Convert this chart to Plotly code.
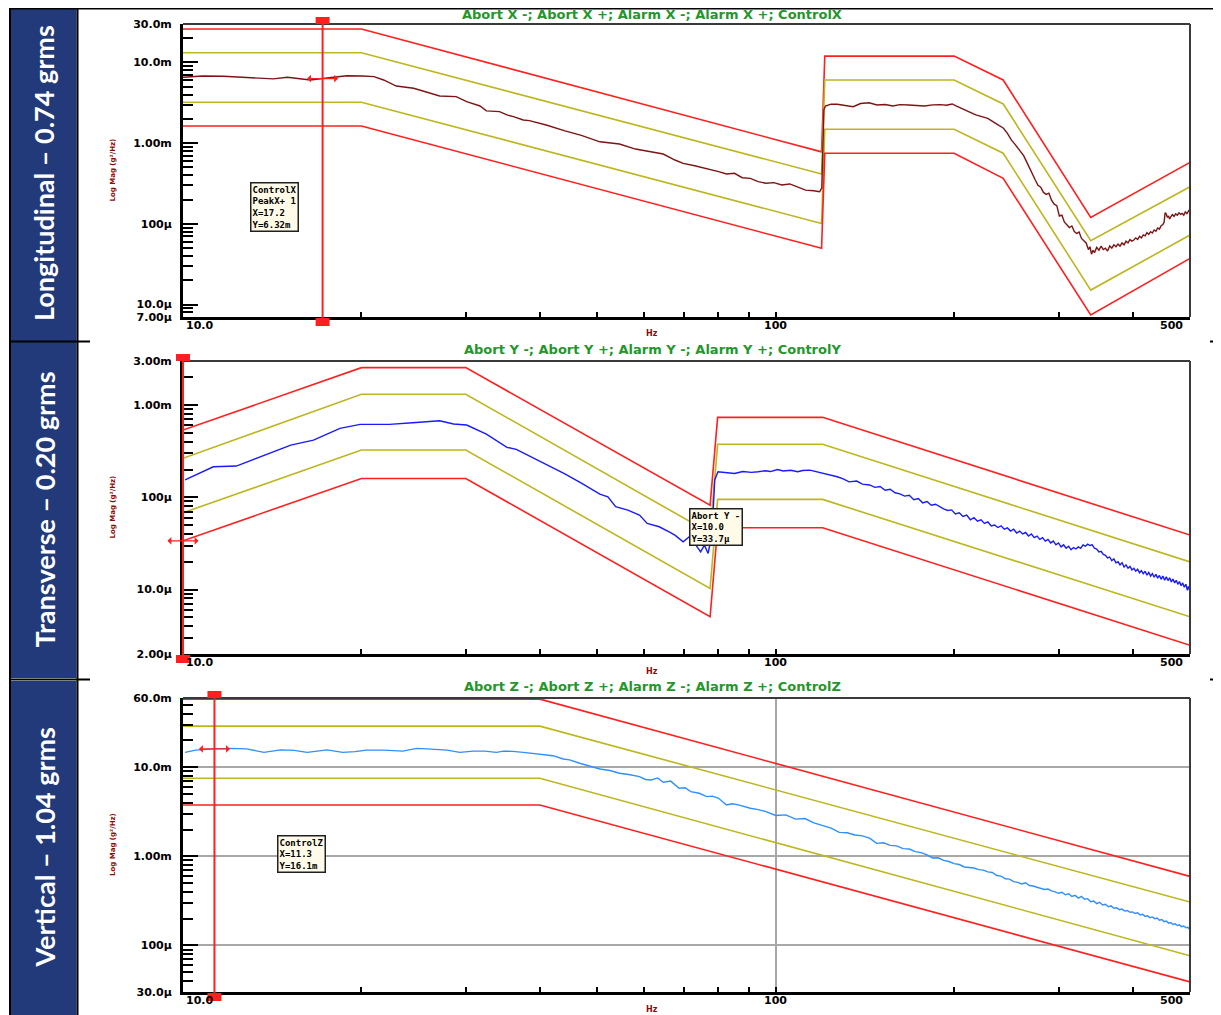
import math
import plotly.graph_objects as go

# page is 1221x1015; the html body adds an 8px margin, so the figure is 8px smaller
PAGE_W, PAGE_H = 1221, 1015
OFF = 8
W, H = PAGE_W - OFF, PAGE_H - OFF

# ---------------- data (frequency in Hz, PSD in g^2/Hz) ----------------
# Panel 1 : Longitudinal (X)
LIM_X_F = [10, 20, 119.5, 121, 200, 242, 340, 500]
ABORT_X_HI = [0.026, 0.026, 0.78e-3, 12.0e-3, 12.0e-3, 6.07e-3, 0.120e-3, 0.578e-3]
ALARM_X_HI = [0.0132, 0.0132, 0.415e-3, 6.07e-3, 6.07e-3, 3.06e-3, 61.8e-6, 0.288e-3]
ALARM_X_LO = [3.21e-3, 3.21e-3, 0.101e-3, 1.49e-3, 1.49e-3, 0.75e-3, 15.1e-6, 72.6e-6]
ABORT_X_LO = [1.63e-3, 1.63e-3, 49.7e-6, 0.75e-3, 0.75e-3, 0.367e-3, 7.41e-6, 37.3e-6]

CTRL_X_F = [10.0, 10.8, 11.7, 13.0, 14.2, 15.0, 15.7, 16.4, 17.2, 18.9, 20.1, 21.0, 21.8, 22.9,
            24.5, 26.1, 27.1, 28.9, 30.1, 31.7, 32.5, 34.2, 35.2, 36.1, 37.5, 38.4, 41.0, 44.1,
            47.0, 50.5, 54.5, 58.0, 61.7, 64.6, 67.6, 69.8, 73.0, 76.5, 80.1, 82.6, 85.2, 87.8,
            90.6, 93.4, 96.3, 99.3, 102.4, 105.6, 108.9, 112.3, 115.9, 118.6, 119.6, 120.6, 121.3,
            124, 127.0, 131, 135.1, 139, 143.7, 148.2, 153, 157.6, 162, 167.6, 173, 178.2, 184,
            189.5, 194, 198.5, 201.5, 207.8, 212, 217.6, 222, 227.9, 235.0, 242.3, 246.0, 249.9,
            253, 257.7, 262, 265.8, 270, 274.1, 277, 280, 283, 286, 289, 292, 295, 298, 301, 304,
            307, 310, 313, 316, 319, 322, 325, 328, 331, 334, 337, 339, 341, 343, 345, 348, 351,
            354, 357, 360, 363, 366, 369, 372, 375, 378, 381, 384, 387, 390, 393, 396, 399, 402,
            405, 408, 411, 414, 417, 420, 423, 426, 429, 432, 435, 438, 441, 444, 447, 450, 452,
            454, 456, 458, 460, 462, 464, 467, 470, 473, 476, 479, 482, 485, 488, 491, 494, 497,
            499]
CTRL_X_V = [6.55e-3, 6.80e-3, 6.74e-3, 6.42e-3, 6.26e-3, 6.57e-3, 6.32e-3, 6.07e-3, 6.32e-3,
            6.86e-3, 6.80e-3, 6.68e-3, 6.07e-3, 5.11e-3, 4.79e-3, 4.15e-3, 3.84e-3, 3.77e-3,
            3.27e-3, 2.89e-3, 2.51e-3, 2.46e-3, 2.24e-3, 2.13e-3, 1.94e-3, 1.90e-3, 1.68e-3,
            1.42e-3, 1.25e-3, 1.04e-3, 0.975e-3, 0.845e-3, 0.783e-3, 0.733e-3, 0.618e-3,
            0.562e-3, 0.525e-3, 0.487e-3, 0.443e-3, 0.415e-3, 0.423e-3, 0.373e-3, 0.366e-3,
            0.333e-3, 0.318e-3, 0.324e-3, 0.303e-3, 0.312e-3, 0.289e-3, 0.262e-3, 0.257e-3,
            0.250e-3, 0.280e-3, 2.60e-3, 2.89e-3, 3.05e-3, 3.03e-3, 2.92e-3, 2.83e-3, 3.10e-3,
            3.17e-3, 2.97e-3, 3.02e-3, 2.89e-3, 3.00e-3, 2.97e-3, 2.93e-3, 2.89e-3, 2.98e-3,
            3.00e-3, 2.95e-3, 3.06e-3, 2.89e-3, 2.58e-3, 2.45e-3, 2.24e-3, 2.15e-3, 2.03e-3,
            1.76e-3, 1.53e-3, 1.32e-3, 1.09e-3, 0.98e-3, 0.822e-3, 0.70e-3, 0.562e-3, 0.43e-3,
            349e-6, 300e-6, 285e-6, 245e-6, 232e-6, 240e-6, 196e-6, 175e-6, 168e-6, 125e-6,
            128e-6, 105e-6, 98e-6, 90e-6, 94e-6, 80e-6, 76e-6, 79e-6, 66e-6, 62e-6, 58e-6,
            48e-6, 52e-6, 42e-6, 47e-6, 44e-6, 51e-6, 47e-6, 53e-6, 48e-6, 50e-6, 46e-6, 53e-6,
            50e-6, 55e-6, 52e-6, 56e-6, 53e-6, 58e-6, 55e-6, 61e-6, 58e-6, 64e-6, 61e-6, 63e-6,
            67e-6, 64e-6, 70e-6, 67e-6, 73e-6, 71e-6, 78e-6, 74e-6, 80e-6, 77e-6, 84e-6, 81e-6,
            89e-6, 86e-6, 95e-6, 98e-6, 104e-6, 138e-6, 132e-6, 120e-6, 125e-6, 115e-6, 122e-6,
            130e-6, 124e-6, 133e-6, 128e-6, 137e-6, 131e-6, 135e-6, 128e-6, 140e-6, 134e-6,
            142e-6, 150e-6]

# Panel 2 : Transverse (Y)
LIM_Y_F = [10, 20, 30, 77.5, 79.8, 120, 500]
ABORT_Y_HI = [0.535e-3, 2.54e-3, 2.54e-3, 82.2e-6, 0.735e-3, 0.735e-3, 38.9e-6]
ALARM_Y_HI = [0.264e-3, 1.31e-3, 1.31e-3, 41e-6, 0.375e-3, 0.375e-3, 19.9e-6]
ALARM_Y_LO = [67.9e-6, 0.325e-3, 0.325e-3, 10.3e-6, 94.8e-6, 94.8e-6, 5.06e-6]
ABORT_Y_LO = [33.7e-6, 0.160e-3, 0.160e-3, 5.06e-6, 46.7e-6, 46.7e-6, 2.49e-6]

CTRL_Y_F = [10.08, 11.25, 12.3, 13.8, 15.2, 16.6, 18.4, 19.9, 22.3, 24.4, 27.1, 28.6, 30.1,
            32.5, 35.2, 36.5, 38.4, 41, 44, 47, 50.5, 52.1, 53.7, 56.3, 58.9, 60.7, 63.6, 66.1,
            67.6, 69.8, 71.4, 73.0, 74.7, 75.8, 76.9, 78.1, 78.9, 79.9, 82, 85.2, 88, 91, 93.4,
            96, 98, 100.7, 103, 106, 108.9, 111, 114.2, 117, 121.3, 124, 127.0, 130, 133.0, 137,
            140, 144, 147, 150, 153, 156, 159, 162, 165, 168, 171, 174, 177, 180, 183, 186, 189,
            192, 195, 198, 201, 204, 207, 210, 213, 216, 219, 222, 225, 228, 231, 234, 237, 240,
            243, 246, 249, 252, 255, 258, 261, 264, 267, 270, 273, 276, 279, 282, 285, 288, 291,
            294, 297, 300, 303, 306, 309, 312, 315, 318, 321, 324, 327, 330, 333, 336, 339, 342,
            345, 348, 351, 354, 357, 360, 363, 366, 369, 372, 375, 378, 381, 384, 387, 390, 393,
            396, 399, 402, 405, 408, 411, 414, 417, 420, 423, 426, 429, 432, 435, 438, 441, 444,
            447, 450, 453, 456, 459, 462, 465, 468, 471, 474, 477, 480, 483, 486, 489, 492, 495,
            497, 499]
CTRL_Y_V = [0.154e-3, 0.214e-3, 0.218e-3, 0.287e-3, 0.368e-3, 0.417e-3, 0.558e-3, 0.617e-3,
            0.617e-3, 0.643e-3, 0.676e-3, 0.622e-3, 0.607e-3, 0.484e-3, 0.348e-3, 0.330e-3,
            0.280e-3, 0.225e-3, 0.180e-3, 0.142e-3, 0.108e-3, 0.101e-3, 78.9e-6, 72.6e-6,
            64.1e-6, 52.1e-6, 47.9e-6, 42.2e-6, 38.9e-6, 32.9e-6, 37.2e-6, 31.6e-6, 25.6e-6,
            30.3e-6, 24.6e-6, 40.5e-6, 0.154e-3, 0.189e-3, 0.185e-3, 0.181e-3, 0.190e-3,
            0.186e-3, 0.189e-3, 0.194e-3, 0.190e-3, 0.200e-3, 0.193e-3, 0.196e-3, 0.189e-3,
            0.195e-3, 0.197e-3, 0.190e-3, 0.181e-3, 0.176e-3, 0.167e-3, 0.158e-3, 0.147e-3,
            0.150e-3, 0.139e-3,
            136e-6, 128e-6, 131e-6, 119e-6, 122e-6, 112e-6, 109e-6, 103e-6, 105e-6, 94e-6, 97e-6,
            87e-6, 90e-6, 82e-6, 84e-6, 79e-6, 75e-6, 72e-6, 73e-6, 66e-6, 68e-6, 62e-6, 64e-6,
            57e-6, 60e-6, 55e-6, 57e-6, 52e-6, 54e-6, 49e-6, 50e-6, 47e-6, 49e-6, 45e-6, 46.5e-6,
            43e-6, 45e-6, 41e-6, 43e-6, 40e-6, 41.5e-6, 38e-6, 40e-6, 36.5e-6, 38e-6, 35e-6,
            36.5e-6, 33.5e-6, 35e-6, 32e-6, 33.5e-6, 30.5e-6, 32e-6, 29e-6, 30.5e-6, 28e-6,
            29.5e-6, 27e-6, 28.5e-6, 27.5e-6, 29e-6, 28e-6, 30.5e-6, 29.5e-6, 31e-6, 30e-6,
            30.5e-6, 28e-6, 27.5e-6, 25.5e-6, 26e-6, 24e-6, 23.5e-6, 22e-6, 22.5e-6, 20.5e-6,
            21.5e-6, 19.5e-6, 20e-6, 18.5e-6, 19.5e-6, 17.5e-6, 18.5e-6, 17e-6, 17.8e-6, 16.3e-6,
            17e-6, 15.8e-6, 16.6e-6, 15.2e-6, 16e-6, 14.8e-6, 15.8e-6, 14.3e-6, 15.3e-6, 14e-6,
            14.9e-6, 13.6e-6, 14.6e-6, 13.3e-6, 14.2e-6, 12.9e-6, 14e-6, 12.6e-6, 13.7e-6,
            12.5e-6, 13.4e-6, 12.1e-6, 13e-6, 11.8e-6, 12.6e-6, 11.4e-6, 12.2e-6, 11e-6,
            11.8e-6, 10.6e-6, 11.4e-6, 9.8e-6, 10.8e-6, 10.0e-6]

# Panel 3 : Vertical (Z)
LIM_Z_F = [10, 40, 500]
ABORT_Z_HI = [58.3e-3, 58.3e-3, 0.595e-3]
ALARM_Z_HI = [29.0e-3, 29.0e-3, 0.307e-3]
ALARM_Z_LO = [7.53e-3, 7.53e-3, 76.6e-6]
ABORT_Z_LO = [3.78e-3, 3.78e-3, 38.9e-6]

CTRL_Z_F = [10.08, 10.5, 11.3, 12.0, 12.8, 13.7, 14.6, 15.4, 16.2, 17.5, 18.6, 19.5, 20.4,
            21.8, 23.5, 24.8, 25.8, 27.9, 29.3, 30.9, 32.3, 33.8, 34.7, 36.0, 37.5, 40.0, 42.1,
            43.8, 44.9, 46.7, 48.5, 50.5, 52.5, 54.5, 56.5, 58.9, 60.3, 61.7, 63.2, 64.6, 66.5,
            68.7, 70.3, 71.9, 74.3, 76.5, 78.2, 80.1, 82.6, 84.5, 86.5, 88.5, 90.6, 93.4, 96.3,
            100, 104, 108, 112, 116, 120, 124, 128, 132, 136, 140, 144, 148, 152, 156, 160, 164,
            168, 172, 176, 180, 184, 188, 192, 196, 200, 204, 208, 212, 216, 220, 224, 228, 232,
            236, 240, 244, 248, 252, 256, 260, 264, 268, 272, 276, 280, 284, 288, 292, 296, 300,
            304, 308, 312, 316, 320, 324, 328, 332, 336, 340, 344, 348, 352, 356, 360, 364, 368,
            372, 376, 380, 384, 388, 392, 396, 400, 404, 408, 412, 416, 420, 424, 428, 432, 436,
            440, 444, 448, 452, 456, 460, 464, 468, 472, 476, 480, 484, 488, 492, 496, 499]
CTRL_Z_V = [14.7e-3, 15.6e-3, 16.1e-3, 16.3e-3, 16.1e-3, 14.7e-3, 15.7e-3, 15.5e-3, 14.7e-3,
            15.7e-3, 14.7e-3, 15.0e-3, 15.6e-3, 15.6e-3, 15.2e-3, 16.3e-3, 16.1e-3, 15.6e-3,
            14.7e-3, 15.2e-3, 15.2e-3, 14.7e-3, 15.2e-3, 15.1e-3, 14.7e-3, 14.0e-3, 13.5e-3,
            12.4e-3, 12.1e-3, 11.1e-3, 10.4e-3, 9.57e-3, 9.2e-3, 8.57e-3, 8.3e-3, 7.87e-3,
            7.3e-3, 7.21e-3, 7.6e-3, 6.79e-3, 7.0e-3, 5.81e-3, 5.9e-3, 5.34e-3, 5.11e-3,
            4.69e-3, 4.75e-3, 4.49e-3, 3.78e-3, 3.9e-3, 3.78e-3, 3.6e-3, 3.47e-3, 3.35e-3,
            3.18e-3,
            2.88e-3, 2.92e-3, 2.62e-3, 2.66e-3, 2.38e-3, 2.22e-3, 2.08e-3, 1.86e-3, 1.84e-3,
            1.74e-3, 1.70e-3, 1.60e-3, 1.40e-3, 1.42e-3, 1.33e-3, 1.31e-3, 1.22e-3, 1.21e-3,
            1.13e-3, 1.10e-3, 1.04e-3, 0.96e-3, 0.965e-3, 0.90e-3, 0.875e-3, 0.83e-3, 0.81e-3,
            0.76e-3, 0.75e-3, 0.74e-3, 0.71e-3, 0.70e-3, 0.67e-3, 0.66e-3, 0.61e-3, 0.60e-3,
            0.56e-3, 0.555e-3, 0.52e-3, 0.51e-3, 0.49e-3, 0.505e-3, 0.47e-3, 0.465e-3, 0.45e-3,
            0.44e-3, 0.425e-3, 0.43e-3, 0.41e-3, 0.40e-3, 0.385e-3, 0.395e-3, 0.37e-3, 0.38e-3,
            0.355e-3, 0.365e-3, 0.34e-3, 0.355e-3, 0.33e-3, 0.335e-3, 0.31e-3, 0.315e-3,
            0.295e-3, 0.305e-3, 0.285e-3, 0.29e-3, 0.272e-3, 0.278e-3, 0.262e-3, 0.265e-3,
            0.252e-3, 0.256e-3, 0.243e-3, 0.247e-3, 0.236e-3, 0.238e-3, 0.228e-3, 0.232e-3,
            0.22e-3, 0.224e-3, 0.212e-3, 0.215e-3, 0.205e-3, 0.209e-3, 0.2e-3, 0.203e-3,
            0.192e-3, 0.195e-3, 0.185e-3, 0.188e-3, 0.178e-3, 0.181e-3, 0.172e-3, 0.175e-3,
            0.167e-3, 0.17e-3, 0.162e-3, 0.165e-3, 0.158e-3, 0.16e-3, 0.152e-3]

# axis tick labels
Y1_TICKS = [0.03, 0.01, 1e-3, 1e-4, 1e-5, 7e-6]
Y1_TEXT = ["30.0m", "10.0m", "1.00m", "100µ", "10.0µ", "7.00µ"]
Y2_TICKS = [3e-3, 1e-3, 1e-4, 1e-5, 2e-6]
Y2_TEXT = ["3.00m", "1.00m", "100µ", "10.0µ", "2.00µ"]
Y3_TICKS = [0.06, 0.01, 1e-3, 1e-4, 3e-5]
Y3_TEXT = ["60.0m", "10.0m", "1.00m", "100µ", "30.0µ"]
X_LABELS = ["10.0", "100", "500"]

TITLES = ["Abort X -; Abort X +; Alarm X -; Alarm X +; ControlX",
          "Abort Y -; Abort Y +; Alarm Y -; Alarm Y +; ControlY",
          "Abort Z -; Abort Z +; Alarm Z -; Alarm Z +; ControlZ"]
SIDE_LABELS = ["Longitudinal – 0.74 grms", "Transverse – 0.20 grms", "Vertical – 1.04 grms"]
CURSOR_TEXT = ["ControlX<br>PeakX+ 1<br>X=17.2<br>Y=6.32m",
               "Abort Y -<br>X=10.0<br>Y=33.7µ",
               "ControlZ<br>X=11.3<br>Y=16.1m"]
CURSOR_F = [17.2, 10.0, 11.3]
CURSOR_V = [6.32e-3, 33.7e-6, 16.1e-3]

# ---------------- styling ----------------
RED = "#ff1f1f"
OLIVE = "#bdb61e"
MAROON = "#7d1414"
BLUE_Y = "#1a1aff"
BLUE_Z = "#2f8fff"
NAVY = "#233a7a"
GREEN = "#23962c"
DARKRED = "#8b0a0a"


def PX(x):
    return (x - OFF) / W


def PY(y):
    return 1 - (y - OFF) / H


XL, XR = 183, 1190
XR0, XR1 = 1.0, math.log10(500)
panels = [
    dict(top=24, bot=317, yr=(7e-6, 0.03), ticks=Y1_TICKS, text=Y1_TEXT, grid=False,
         lim=(LIM_X_F, ABORT_X_HI, ALARM_X_HI, ALARM_X_LO, ABORT_X_LO),
         ctrl=(CTRL_X_F, CTRL_X_V), ccol=MAROON, box=(6, 341), title_y=15),
    dict(top=361, bot=654, yr=(2e-6, 3e-3), ticks=Y2_TICKS, text=Y2_TEXT, grid=False,
         lim=(LIM_Y_F, ABORT_Y_HI, ALARM_Y_HI, ALARM_Y_LO, ABORT_Y_LO),
         ctrl=(CTRL_Y_F, CTRL_Y_V), ccol=BLUE_Y, box=(342, 678), title_y=349),
    dict(top=698, bot=992, yr=(3e-5, 0.06), ticks=Y3_TICKS, text=Y3_TEXT, grid=True,
         lim=(LIM_Z_F, ABORT_Z_HI, ALARM_Z_HI, ALARM_Z_LO, ABORT_Z_LO),
         ctrl=(CTRL_Z_F, CTRL_Z_V), ccol=BLUE_Z, box=(681, 1016), title_y=686),
]

X_MINOR = [20, 30, 40, 50, 60, 70, 80, 90, 200, 300, 400]


def y_minor(lo, hi):
    out = []
    for e in range(-7, 0):
        for k in range(2, 10):
            v = k * 10.0 ** e
            if lo < v < hi:
                out.append(v)
    return out


def fx(f):
    """frequency -> paper x using the axis domain/range"""
    return PX(XL) + (math.log10(f) - XR0) / (XR1 - XR0) * (PX(XR) - PX(XL))


fig = go.Figure()
shapes = []
annotations = []
TICKFONT = dict(family="DejaVu Sans", size=11, color="black", weight="bold")

for i, p in enumerate(panels):
    sfx = "" if i == 0 else str(i + 1)
    xa, ya = "x" + sfx, "y" + sfx
    F, ahi, lhi, llo, alo = p["lim"]
    for vals, col in ((ahi, RED), (lhi, OLIVE), (llo, OLIVE), (alo, RED)):
        fig.add_trace(go.Scatter(x=F, y=vals, mode="lines", xaxis=xa, yaxis=ya,
                                 line=dict(color=col, width=1.6), hoverinfo="skip"))
    cf, cv = p["ctrl"]
    fig.add_trace(go.Scatter(x=cf, y=cv, mode="lines", xaxis=xa, yaxis=ya,
                             line=dict(color=p["ccol"], width=1.4)))

    dom_y = [PY(p["bot"]), PY(p["top"])]
    fig.layout["xaxis" + sfx] = dict(
        domain=[PX(XL), PX(XR)], type="log", range=[XR0, XR1], anchor=ya,
        automargin=False,
        showline=True, linecolor="black", linewidth=3, ticks="inside",
        tickvals=[10, 100], ticklen=5, tickwidth=1.5, tickcolor="black",
        showticklabels=False, showgrid=p["grid"], gridcolor="#a8a8a8", gridwidth=1.5,
        zeroline=False,
        minor=dict(tickvals=X_MINOR, ticks="inside", ticklen=5, tickwidth=1.5,
                   tickcolor="black", showgrid=False))
    lo, hi = p["yr"]
    fig.layout["yaxis" + sfx] = dict(
        domain=dom_y, type="log", range=[math.log10(lo), math.log10(hi)], anchor=xa,
        automargin=False,
        showline=True, linecolor="black", linewidth=3, ticks="inside",
        tickvals=p["ticks"], ticktext=p["text"], ticklen=15, tickwidth=2, tickcolor="black",
        tickfont=TICKFONT, ticklabelstandoff=6,
        showgrid=p["grid"], gridcolor="#a8a8a8", gridwidth=1.5, zeroline=False,
        minor=dict(tickvals=y_minor(lo, hi), ticks="inside", ticklen=10, tickwidth=2,
                   tickcolor="black", showgrid=False))

    top, bot = p["top"], p["bot"]
    # thin top / right frame
    shapes.append(dict(type="line", xref="paper", yref="paper", x0=PX(XL), x1=PX(XR),
                       y0=PY(top), y1=PY(top), line=dict(color="#3a3a3a", width=2)))
    shapes.append(dict(type="line", xref="paper", yref="paper", x0=PX(XR), x1=PX(XR),
                       y0=PY(top), y1=PY(bot), line=dict(color="#3a3a3a", width=2)))

    # x tick labels
    annotations.append(dict(x=fx(10) + 1 / W, y=PY(bot + 8), xref="paper", yref="paper",
                            text=X_LABELS[0], showarrow=False, xanchor="left",
                            yanchor="middle", font=TICKFONT))
    annotations.append(dict(x=fx(100), y=PY(bot + 8), xref="paper", yref="paper",
                            text=X_LABELS[1], showarrow=False, xanchor="center",
                            yanchor="middle", font=TICKFONT))
    annotations.append(dict(x=PX(XR - 5), y=PY(bot + 8), xref="paper", yref="paper",
                            text=X_LABELS[2], showarrow=False, xanchor="right",
                            yanchor="middle", font=TICKFONT))
    # Hz
    annotations.append(dict(x=PX(652), y=PY(bot + 17), xref="paper", yref="paper", text="Hz",
                            showarrow=False, xanchor="center", yanchor="middle",
                            font=dict(family="DejaVu Sans", size=8, color=DARKRED,
                                      weight="bold")))
    # y title
    annotations.append(dict(x=PX(113), y=PY((top + bot) / 2), xref="paper", yref="paper",
                            text="Log Mag (g²/Hz)", textangle=-90, showarrow=False,
                            xanchor="center", yanchor="middle",
                            font=dict(family="DejaVu Sans", size=7, color=DARKRED,
                                      weight="bold")))
    # title
    annotations.append(dict(x=PX(652), y=PY(p["title_y"]), xref="paper", yref="paper",
                            text=TITLES[i], showarrow=False, xanchor="center",
                            yanchor="middle",
                            font=dict(family="DejaVu Sans", size=13, color=GREEN,
                                      weight="bold")))
    # side label box
    b0, b1 = p["box"]
    shapes.append(dict(type="rect", xref="paper", yref="paper", x0=PX(11), x1=PX(76.5),
                       y0=PY(b1), y1=PY(b0), fillcolor=NAVY, line=dict(width=0),
                       layer="below"))
    annotations.append(dict(x=PX(43.5), y=PY((b0 + min(b1, 1015)) / 2), xref="paper",
                            yref="paper", text=SIDE_LABELS[i], textangle=-90,
                            showarrow=False, xanchor="center", yanchor="middle",
                            font=dict(family="Lato", size=27, color="white",
                                      weight="bold")))

    # cursor line + end squares
    cx = fx(CURSOR_F[i])
    shapes.append(dict(type="line", xref="paper", yref="paper", x0=cx, x1=cx,
                       y0=PY(top - 6), y1=PY(bot + 8), line=dict(color=RED, width=2)))
    for (ya0, ya1) in ((top - 7, top), (bot + 1, bot + 9)):
        shapes.append(dict(type="rect", xref="paper", yref="paper", x0=cx - 7 / W,
                           x1=cx + 7 / W, y0=PY(ya1), y1=PY(ya0), fillcolor=RED,
                           line=dict(width=0)))
    # cursor double arrow marker
    for dx in (-17, 17):
        annotations.append(dict(x=math.log10(CURSOR_F[i]), y=math.log10(CURSOR_V[i]),
                                xref=xa, yref=ya, ax=dx, ay=0, text="", showarrow=True,
                                arrowside="start", arrowhead=2, arrowsize=1.2,
                                arrowwidth=1.3, arrowcolor=RED))

# cursor text boxes (pixel positions of the readout boxes)
BOXES = [(250, 182), (689, 508), (277, 835)]
for i, (bx, by) in enumerate(BOXES):
    annotations.append(dict(x=PX(bx), y=PY(by), xref="paper", yref="paper",
                            text=CURSOR_TEXT[i], showarrow=False, xanchor="left",
                            yanchor="top", align="left", bgcolor="#fffbe8",
                            bordercolor="#202020", borderwidth=1.5, borderpad=1,
                            font=dict(family="DejaVu Sans Mono", size=9, color="black",
                                      weight="bold")))

# frame lines of the slide
frame = [
    (10, 8.8, 1221, 8.8, 1.6), (10, 8, 10, 1015, 2), (77.5, 8, 77.5, 1015, 2),
    (10, 341.5, 90, 341.5, 2), (1210, 341.5, 1221, 341.5, 2),
    (10, 679.5, 90, 679.5, 2), (1210, 679.5, 1221, 679.5, 2),
]
for x0, y0, x1, y1, w in frame:
    shapes.append(dict(type="line", xref="paper", yref="paper", x0=PX(x0), x1=PX(x1),
                       y0=PY(y0), y1=PY(y1), line=dict(color="black", width=w)))

fig.update_layout(width=W, height=H, margin=dict(l=0, r=0, t=0, b=0, autoexpand=False),
                  paper_bgcolor="white", plot_bgcolor="white", showlegend=False,
                  shapes=shapes, annotations=annotations)
fig.write_html("out.html")
